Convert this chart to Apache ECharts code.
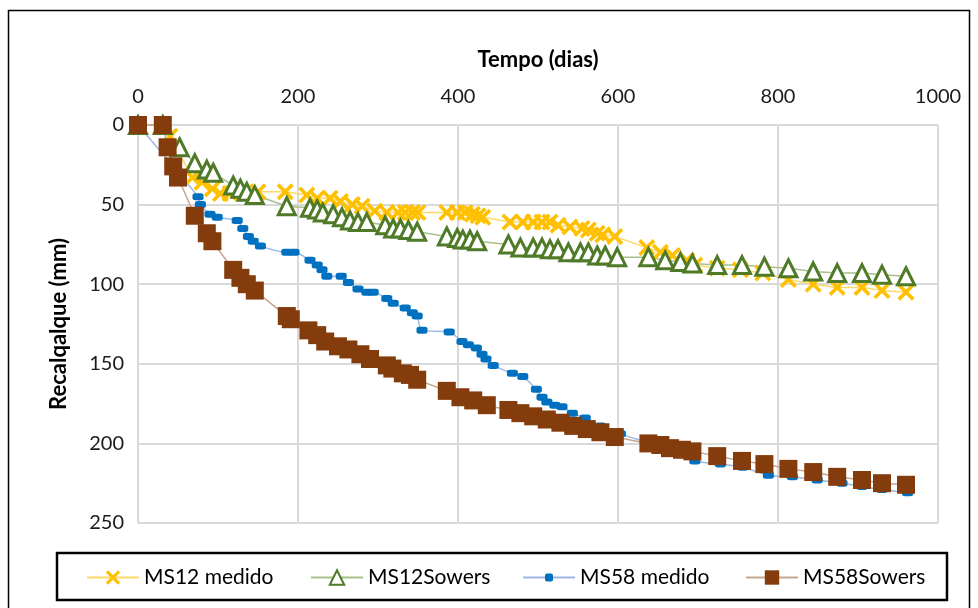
<!DOCTYPE html>
<html>
<head>
<meta charset="utf-8">
<title>Recalque x Tempo</title>
<script src="https://cdn.jsdelivr.net/npm/echarts@6/dist/echarts.min.js"></script>
<style>
  html, body { margin: 0; padding: 0; background: #fff; }
  #chart { width: 978px; height: 608px; }
</style>
</head>
<body>
<div id="chart"></div>
<script>
// Tempo (dias) e recalque (mm) de cada série
const ms12MedidoDias = [0, 31, 40, 68, 80, 93, 103, 115, 150, 184, 211, 224, 240, 253, 268, 280, 296, 311, 325, 334, 343, 350, 386, 399, 409, 418, 425, 431, 465, 481, 494, 505, 515, 525, 540, 555, 563, 574, 581, 596, 636, 653, 668, 686, 696, 724, 753, 781, 813, 844, 874, 905, 930, 960];
const ms12MedidoRecalque = [0, 0, 7, 33, 36, 40, 43, 43, 42, 42, 44, 46, 46, 48, 50, 51, 54, 55, 55, 55, 55, 55, 55, 55, 55, 56, 57, 58, 61, 61, 61, 61, 61, 63, 64, 65, 66, 68, 69, 70, 77, 80, 82, 85, 88, 90, 91, 93, 97, 100, 102, 102, 104, 105];

const ms12SowersDias = [0, 31, 52, 71, 86, 94, 119, 128, 136, 146, 186, 215, 224, 231, 244, 255, 265, 275, 286, 309, 319, 328, 338, 349, 386, 399, 406, 415, 424, 463, 478, 494, 505, 515, 525, 538, 553, 563, 574, 584, 599, 638, 659, 678, 693, 724, 755, 783, 813, 844, 874, 905, 930, 960];
const ms12SowersRecalque = [0, 0, 14, 24, 28, 30, 38, 40, 42, 44, 51, 52, 53, 55, 56, 58, 60, 61, 61, 63, 65, 65, 66, 67, 70, 71, 72, 72, 73, 75, 77, 77, 77, 78, 78, 80, 80, 80, 82, 82, 83, 83, 85, 86, 87, 88, 88, 89, 90, 92, 93, 93, 94, 95];

const ms58MedidoDias = [0, 75, 78, 90, 99, 124, 131, 138, 144, 153, 186, 195, 215, 224, 230, 236, 254, 263, 275, 286, 294, 311, 319, 334, 343, 349, 355, 389, 405, 413, 423, 430, 435, 444, 468, 481, 498, 505, 511, 521, 530, 543, 559, 578, 603, 640, 668, 696, 728, 756, 788, 818, 849, 880, 905, 930, 962];
const ms58MedidoRecalque = [0, 45, 50, 56, 58, 60, 65, 70, 73, 76, 80, 80, 85, 88, 91, 95, 95, 99, 103, 105, 105, 109, 112, 115, 118, 120, 129, 130, 136, 138, 140, 144, 147, 151, 156, 158, 166, 171, 174, 176, 177, 181, 184, 189, 194, 200, 205, 211, 213, 215, 220, 221, 223, 225, 227, 229, 231];

const ms58SowersDias = [0, 31, 37, 44, 50, 71, 86, 93, 119, 128, 136, 146, 186, 191, 213, 224, 234, 250, 263, 278, 290, 311, 318, 331, 340, 349, 386, 403, 419, 436, 463, 478, 494, 511, 528, 544, 561, 578, 596, 638, 653, 665, 680, 693, 724, 755, 783, 813, 844, 874, 905, 930, 960];
const ms58SowersRecalque = [0, 0, 14, 26, 33, 57, 68, 73, 91, 96, 100, 104, 120, 122, 129, 132, 136, 139, 141, 144, 147, 151, 153, 156, 157, 160, 167, 171, 173, 176, 179, 181, 183, 185, 187, 189, 191, 193, 196, 200, 201, 203, 204, 205, 208, 211, 213, 216, 218, 221, 223, 225, 226];

// Eixos
const xMin = 0, xMax = 1000, xStep = 200;
const yMin = 0, yMax = 250, yStep = 50;

const FONT = 'Lato, "Open Sans", sans-serif';
const pairs = (xs, ys) => xs.map((x, i) => [x, ys[i]]);

// Marcador em "X" preenchido
const X_SYMBOL = 'path://M1.5,0 L5,3.5 L8.5,0 L10,1.5 L6.5,5 L10,8.5 L8.5,10 L5,6.5 L1.5,10 L0,8.5 L3.5,5 L0,1.5 Z';

const chart = echarts.init(document.getElementById('chart'), null, { renderer: 'canvas' });

const legendText = { fontFamily: FONT, fontSize: 21, color: '#000', lineHeight: 20 };
const makeLegend = (name, left, itemHeight) => ({
  data: [name],
  left: left,
  top: 567,
  orient: 'horizontal',
  itemWidth: 52,
  itemHeight: itemHeight,
  itemGap: 0,
  padding: 0,
  selectedMode: false,
  textStyle: legendText
});

chart.setOption({
  animation: false,
  backgroundColor: '#fff',
  textStyle: { fontFamily: FONT },
  grid: { left: 138, right: 40, top: 125, bottom: 85 },
  graphic: [
    {
      type: 'rect', silent: true, z: 0,
      shape: { x: 8.5, y: 10.5, width: 961, height: 640 },
      style: { fill: null, stroke: '#000', lineWidth: 1.5 }
    },
    {
      type: 'rect', silent: true, z: 0,
      shape: { x: 57, y: 553, width: 890, height: 47 },
      style: { fill: null, stroke: '#000', lineWidth: 2.5 }
    }
  ],
  legend: [
    makeLegend('MS12 medido', 86, 18),
    makeLegend('MS12Sowers', 310, 18),
    makeLegend('MS58 medido', 522, 10),
    makeLegend('MS58Sowers', 745, 18)
  ],
  xAxis: {
    type: 'value',
    position: 'top',
    min: xMin, max: xMax, interval: xStep,
    name: 'Tempo (dias)',
    nameLocation: 'middle',
    nameGap: 54,
    nameTextStyle: { fontFamily: FONT, fontSize: 22, fontWeight: 'bold', color: '#000' },
    axisLine: { show: false },
    axisTick: { show: false },
    axisLabel: { margin: 18, fontFamily: FONT, fontSize: 20, color: '#1a1a1a', formatter: v => String(v) },
    splitLine: { show: true, showMinLine: true, showMaxLine: true, lineStyle: { color: '#D9D9D9', width: 2 } }
  },
  yAxis: {
    type: 'value',
    inverse: true,
    min: yMin, max: yMax, interval: yStep,
    name: 'Recalqalque (mm)',
    nameLocation: 'middle',
    nameRotate: 90,
    nameGap: 68,
    nameTextStyle: { fontFamily: FONT, fontSize: 22, fontWeight: 'bold', color: '#000' },
    axisLine: { show: false },
    axisTick: { show: false },
    axisLabel: { margin: 14, fontFamily: FONT, fontSize: 20, color: '#1a1a1a', formatter: v => String(v) },
    splitLine: { show: true, showMinLine: true, showMaxLine: true, lineStyle: { color: '#D9D9D9', width: 2 } }
  },
  series: [
    {
      name: 'MS12 medido',
      type: 'line',
      data: pairs(ms12MedidoDias, ms12MedidoRecalque),
      symbol: X_SYMBOL,
      symbolSize: 17,
      clip: false,
      itemStyle: { color: '#FFC000' },
      lineStyle: { color: '#FFD966', width: 1.5 },
      emphasis: { disabled: true }
    },
    {
      name: 'MS12Sowers',
      type: 'line',
      data: pairs(ms12SowersDias, ms12SowersRecalque),
      symbol: 'triangle',
      symbolSize: 17,
      clip: false,
      itemStyle: { color: '#fff', borderColor: '#4F7A28', borderWidth: 3 },
      lineStyle: { color: '#A8C08A', width: 1.5 },
      emphasis: { disabled: true }
    },
    {
      name: 'MS58 medido',
      type: 'line',
      data: pairs(ms58MedidoDias, ms58MedidoRecalque),
      symbol: 'roundRect',
      symbolSize: [11, 7],
      smooth: 0.3,
      clip: false,
      itemStyle: { color: '#0070C0' },
      lineStyle: { color: '#9DB8E4', width: 1.5 },
      emphasis: { disabled: true }
    },
    {
      name: 'MS58Sowers',
      type: 'line',
      data: pairs(ms58SowersDias, ms58SowersRecalque),
      symbol: 'rect',
      symbolSize: 18,
      clip: false,
      itemStyle: { color: '#843C0C' },
      lineStyle: { color: '#C7A58F', width: 1.5 },
      emphasis: { disabled: true }
    }
  ]
});
</script>
</body>
</html>
